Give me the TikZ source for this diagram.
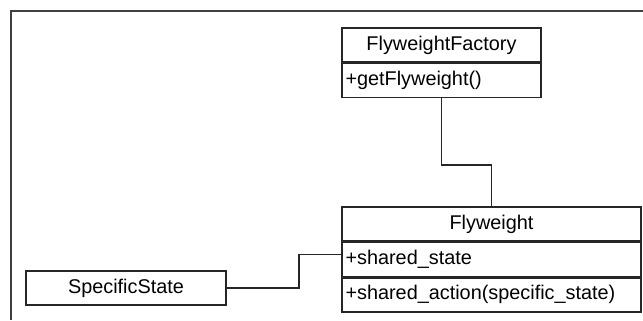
\documentclass[tikz,border=0pt]{standalone}
\usepackage{fontspec}
\setmainfont{Liberation Sans}
\usetikzlibrary{positioning}
\begin{document}
\begin{tikzpicture}[
    cls/.style={rectangle, draw=black!85, line width=0.8pt, minimum height=0.68cm, inner ysep=0pt, font=\fontsize{11.3}{13}\selectfont},
    clstitle/.style={cls, minimum width=#1, align=center},
    clsmember/.style={cls, text width=#1, inner xsep=2pt, align=left},
    link/.style={draw=black!85, line width=0.8pt}
]
\useasboundingbox (0,0) rectangle (12.86,6.4);
% Frame
\draw[black!75, line width=1pt] (0.22,0) |- (12.86,6.18);
% Factory
\node[clstitle=3.98cm] (factory) at (8.83,5.50) {FlyweightFactory};
\node[clsmember=3.84cm, below=0pt of factory] (factoryops) {+getFlyweight()};
% Flyweight
\node[clstitle=5.98cm] (flyweight) at (9.83,1.92) {Flyweight};
\node[clsmember=5.84cm, below=0pt of flyweight] (flyattr) {+shared\_state};
\node[clsmember=5.84cm, below=0pt of flyattr] (flyops) {+shared\_action(specific\_state)};
% Extrinsic state
\node[clstitle=4.0cm] (specific) at (2.52,0.64) {SpecificState};
\coordinate (bend) at (5.98,0.64);
% Links
\draw[link] (factoryops.south) -- ++(0,-1.34) -| (flyweight.north);
\draw[link] (specific.east) -- (bend) |- ([yshift=1mm]flyattr.west);
\end{tikzpicture}
\end{document}
